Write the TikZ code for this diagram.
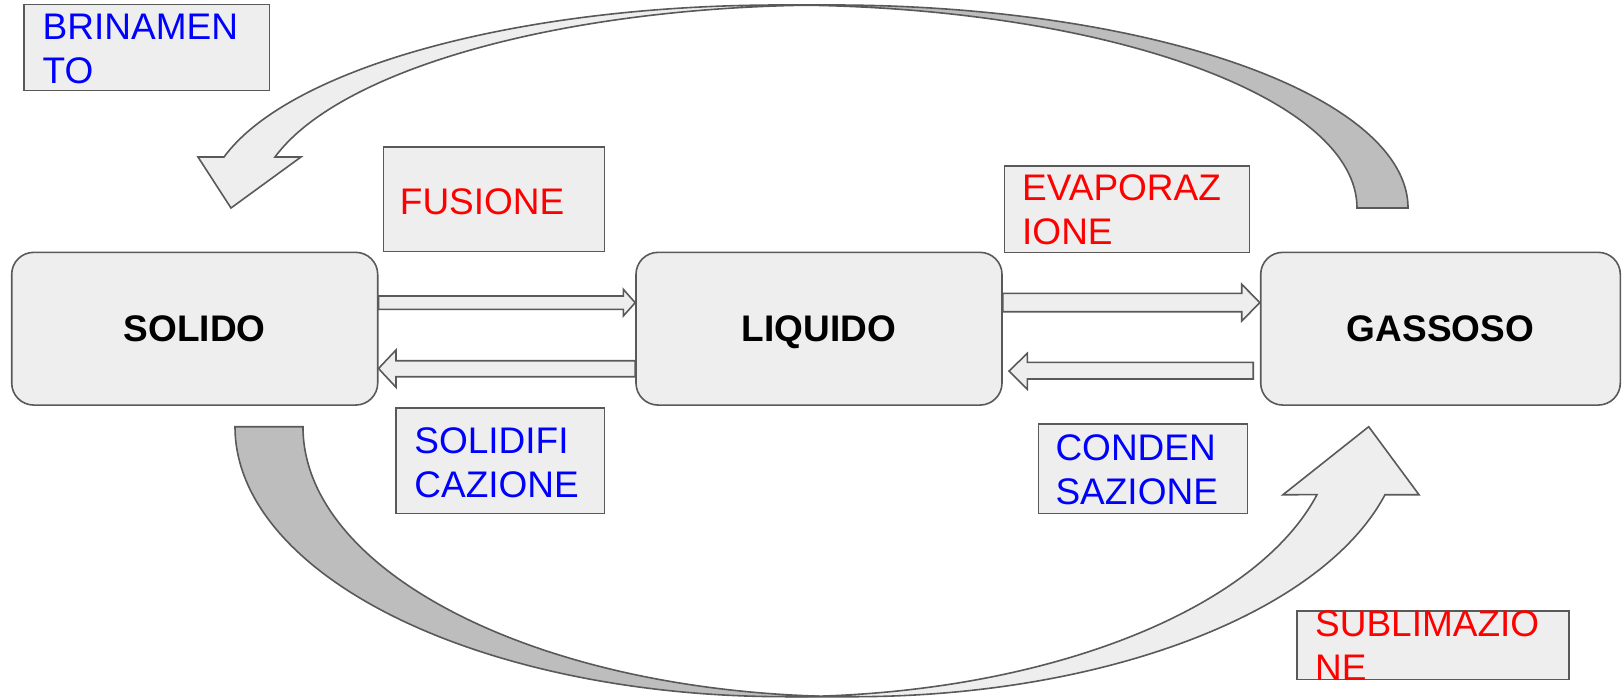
\documentclass[tikz,border=0pt]{standalone}
\usepackage{fontspec}
\setmainfont{Liberation Sans}
\usetikzlibrary{calc}
\definecolor{boxfill}{HTML}{EEEEEE}
\definecolor{darkfill}{HTML}{BDBDBD}
\definecolor{edgegray}{HTML}{595959}
\definecolor{lblblue}{HTML}{0000FF}
\definecolor{lblred}{HTML}{FF0000}
\tikzset{
  statebox/.style={draw=edgegray, fill=boxfill, line width=1.6pt, rounded corners=22pt, inner sep=0pt,
    text depth=0pt, font=\fontsize{37}{44}\selectfont\bfseries},
  labelbox/.style={draw=edgegray, fill=boxfill, line width=1.6pt, inner sep=0pt},
  fatarrow/.style={draw=edgegray, fill=boxfill, line width=1.6pt, line join=miter},
  bandfront/.style={draw=edgegray, fill=boxfill, line width=1.6pt, line join=miter},
  bandback/.style={draw=edgegray, fill=darkfill, line width=1.6pt, line join=miter},
  lbltext/.style={font=\fontsize{37}{44}\selectfont, align=left, anchor=base west, inner sep=0pt},
  bluelbl/.style={lbltext, text=lblblue},
  redlbl/.style={lbltext, text=lblred}
}
\begin{document}
\begin{tikzpicture}[x=1pt,y=-1pt]
\useasboundingbox (0,0) rectangle (1622,698);

% state boxes
\node[statebox, minimum width=366pt, minimum height=152.7pt] (solido) at (194.7,328.7) {SOLIDO};
\node[statebox, minimum width=366pt, minimum height=152.7pt] (liquido) at (819,328.7) {LIQUIDO};
\node[statebox, minimum width=359.6pt, minimum height=152.7pt] (gassoso) at (1440.5,328.7) {GASSOSO};

% label boxes
\node[labelbox, minimum width=245.3pt, minimum height=86pt] (brinbox) at (146.65,47.7) {};
\node[labelbox, minimum width=221pt, minimum height=104.1pt] (fusbox) at (493.8,199.35) {};
\node[labelbox, minimum width=245pt, minimum height=86.6pt] (evapbox) at (1126.8,209) {};
\node[labelbox, minimum width=208.3pt, minimum height=105.3pt] (solbox) at (500.15,460.65) {};
\node[labelbox, minimum width=208.7pt, minimum height=89.3pt] (condbox) at (1142.95,468.65) {};
\node[labelbox, minimum width=272.3pt, minimum height=68.6pt] (sublbox) at (1432.85,645) {};

% straight fat arrows
\draw[fatarrow] (solido.east |- 0,296) -- (623.3,296) -- (623.3,289.3) -- (liquido.west |- 0,302.7)
  -- (623.3,316) -- (623.3,309.3) -- (solido.east |- 0,309.3) -- cycle;
\draw[fatarrow] (liquido.west |- 0,360.7) -- (396,360.7) -- (396,350) -- (solido.east |- 0,368.5)
  -- (396,387.3) -- (396,376.7) -- (liquido.west |- 0,376.7) -- cycle;
\draw[fatarrow] (liquido.east |- 0,293.3) -- (1241.7,293.3) -- (1241.7,284.3) -- (gassoso.west |- 0,302.6)
  -- (1241.7,321) -- (1241.7,311.7) -- (liquido.east |- 0,311.7) -- cycle;
\coordinate (condtail) at ($(gassoso.west |- 0,362.3)+(-6.7,0)$);
\coordinate (condtailb) at ($(gassoso.west |- 0,379)+(-6.7,0)$);
\draw[fatarrow] (condtail) -- (1027.3,362.3) -- (1027.3,353.3) -- ($(liquido.east |- 0,371)+(6.3,0)$)
  -- (1027.3,389.3) -- (1027.3,379) -- (condtailb) -- cycle;

% top curved arrow (brinamento)
\draw[bandback] (806.75,5.2) arc[start angle=267.46, end angle=360, x radius=575.75, y radius=203]
  -- (1357,208) arc[start angle=0, end angle=-87.46, x radius=575.75, y radius=203] -- cycle;
\draw[bandfront] (231,208) -- (301,157) -- (275,157)
  arc[start angle=194.55, end angle=270, x radius=575.75, y radius=203] -- (781.25,5)
  arc[start angle=270, end angle=194.55, x radius=575.75, y radius=203] -- (198,157) -- cycle;

% bottom curved arrow (sublimazione)
\draw[bandback] (235,426.7) arc[start angle=180, end angle=86.455, x radius=549.85, y radius=270]
  arc[start angle=93.545, end angle=180, x radius=549.85, y radius=270] -- cycle;
\draw[bandfront] (1368.7,426.7) -- (1418.98,494.7) -- (1384.98,494.7)
  arc[start angle=14.587, end angle=90, x radius=549.85, y radius=270] -- (784.85,696.7)
  arc[start angle=90, end angle=14.587, x radius=549.85, y radius=270] -- (1282.98,494.7) -- cycle;

% label texts (anchor = baseline of the last line)
\node[bluelbl] (brintext) at (42.5,83.3) {BRINAMEN\\TO};
\node[redlbl] (fustext) at (399.7,214) {FUSIONE};
\node[redlbl] (evaptext) at (1022,244) {EVAPORAZ\\IONE};
\node[bluelbl] (soltext) at (414.2,497.3) {SOLIDIFI\\CAZIONE};
\node[bluelbl] (condtext) at (1055.3,504.3) {CONDEN\\SAZIONE};
\node[redlbl] (subltext) at (1314.9,680) {SUBLIMAZIO\\NE};
\end{tikzpicture}
\end{document}
